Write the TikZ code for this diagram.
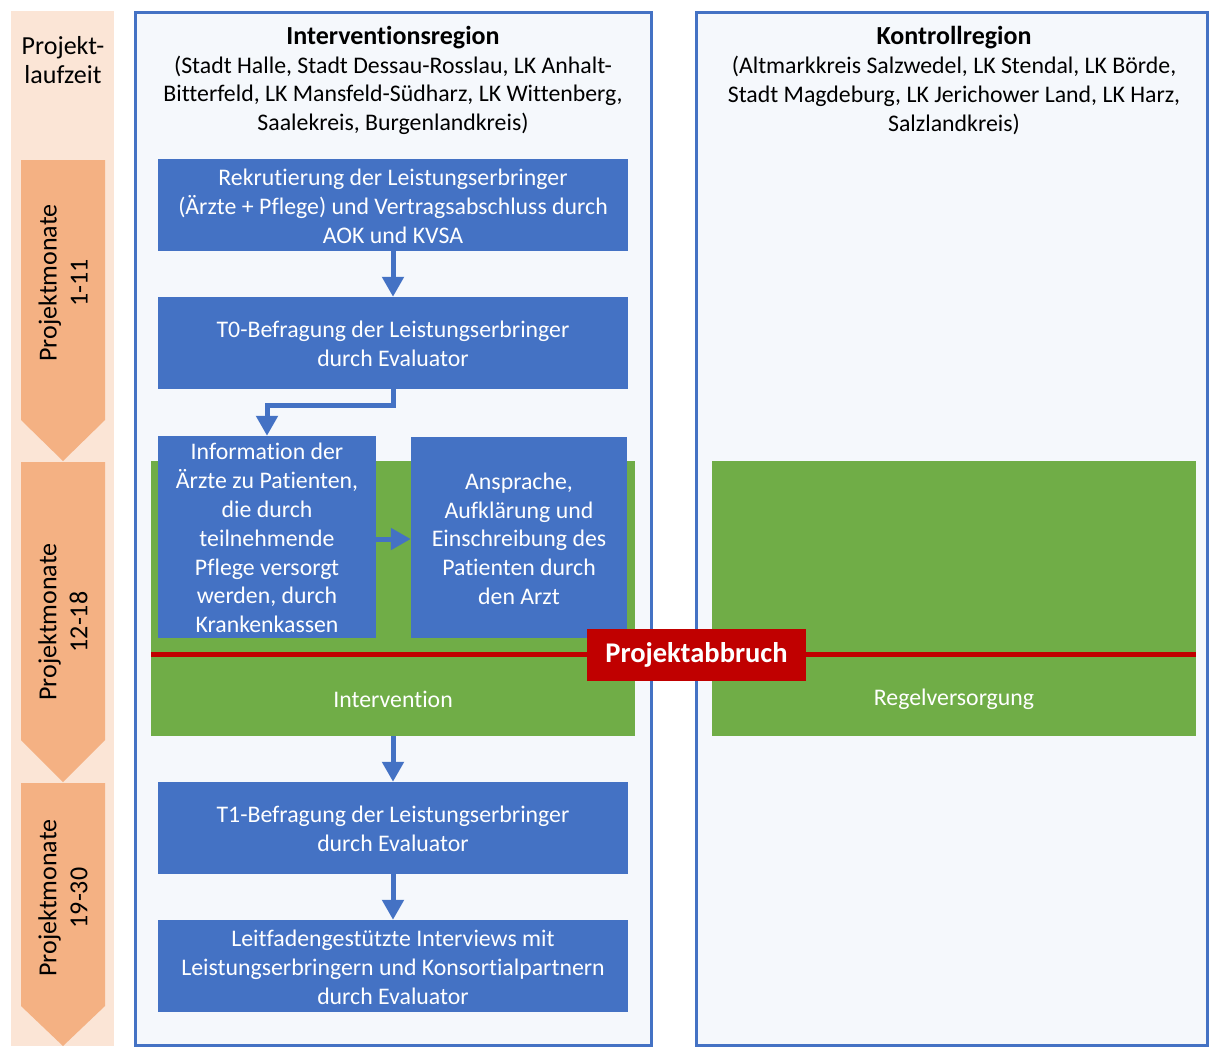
\documentclass[tikz,border=0pt]{standalone}
\usepackage{fontspec}
\setmainfont{Carlito}[Ligatures={NoCommon}]
\usetikzlibrary{arrows.meta}
\definecolor{obl}{HTML}{4472C4}
\definecolor{ogr}{HTML}{70AD47}
\definecolor{ord}{HTML}{C00000}
\definecolor{pkl}{HTML}{FBE5D6}
\definecolor{pkd}{HTML}{F4B183}
\definecolor{pnl}{HTML}{F5F8FC}
\newcommand{\bxlines}[1]{\raisebox{-3.6pt}[\height][\depth]{\begin{tabular}{@{}c@{}}#1\end{tabular}}}
\tikzset{
  txt/.style={font=\fontsize{23.8pt}{28.8pt}\selectfont, align=center, inner sep=0pt, yshift=-1.5pt},
  bigtxt/.style={font=\fontsize{26pt}{31pt}\selectfont, align=center, inner sep=0pt},
  bluebox/.style={font=\fontsize{23.8pt}{28.8pt}\selectfont, inner sep=0pt, fill=obl, text=white},
  greenbox/.style={fill=ogr, inner sep=0pt},
  panel/.style={draw=obl, line width=3pt, fill=pnl},
  chev/.style={fill=pkd},
  arr/.style={draw=obl, line width=5pt, -{Triangle[width=21pt,length=20pt]}},
}
\begin{document}
\begin{tikzpicture}[x=1pt,y=-1pt]
\useasboundingbox (0,0) rectangle (1209,1046);
\fill[white] (0,0) rectangle (1209,1046);
% time strip
\fill[pkl] (11,11) rectangle (114,1046);
\node[bigtxt, font=\fontsize{26pt}{29pt}\selectfont] (lz) at (63,60) {Projekt-\\laufzeit};
\fill[chev] (21,160) -- (105,160) -- (105,420) -- (63,461) -- (21,420) -- cycle;
\fill[chev] (21,462) -- (105,462) -- (105,740) -- (63,782) -- (21,740) -- cycle;
\fill[chev] (21,783) -- (105,783) -- (105,1006) -- (63,1046) -- (21,1006) -- cycle;
\node[bigtxt, rotate=90] (m1) at (63,283) {Projektmonate\\1-11};
\node[bigtxt, rotate=90] (m2) at (63,622) {Projektmonate\\12-18};
\node[bigtxt, rotate=90] (m3) at (63,898) {Projektmonate\\19-30};
% panels
\draw[panel] (135,12.5) rectangle (651,1045);
\draw[panel] (696.5,12.5) rectangle (1207.5,1045);
\node[txt] (ti) at (393,79) {{\fontsize{26pt}{29pt}\selectfont\textbf{Interventionsregion}}\\(Stadt Halle, Stadt Dessau-Rosslau, LK Anhalt-\\Bitterfeld, LK Mansfeld-Südharz, LK Wittenberg,\\Saalekreis, Burgenlandkreis)};
\node[txt] (tk) at (954,79) {{\fontsize{26pt}{29pt}\selectfont\textbf{Kontrollregion}}\\(Altmarkkreis Salzwedel, LK Stendal, LK Börde,\\Stadt Magdeburg, LK Jerichower Land, LK Harz,\\Salzlandkreis)};
% green areas
\node[greenbox, minimum width=484pt, minimum height=275pt] (gl) at (393,598.5) {};
\node[greenbox, minimum width=484pt, minimum height=275pt] (gr) at (954,598.5) {};
\fill[ord] (151,652) rectangle (1196,657);
\node[txt, text=white] (li) at (393,698) {Intervention};
\node[txt, text=white] (lr) at (954,698) {Regelversorgung};
% boxes
\node[bluebox, minimum width=470pt, minimum height=92pt] (b1) at (393,205) {\bxlines{Rekrutierung der Leistungserbringer\\(Ärzte + Pflege) und Vertragsabschluss durch\\AOK und KVSA}};
\node[bluebox, minimum width=470pt, minimum height=92pt] (b2) at (393,343) {\bxlines{T0-Befragung der Leistungserbringer\\durch Evaluator}};
\node[bluebox, minimum width=218pt, minimum height=202pt] (b3) at (267,537) {\bxlines{Information der\\Ärzte zu Patienten,\\die durch\\teilnehmende\\Pflege versorgt\\werden, durch\\Krankenkassen}};
\node[bluebox, minimum width=216pt, minimum height=201pt] (b4) at (519,537.5) {\bxlines{Ansprache,\\Aufklärung und\\Einschreibung des\\Patienten durch\\den Arzt}};
\node[bluebox, minimum width=470pt, minimum height=92pt] (b5) at (393,828) {\bxlines{T1-Befragung der Leistungserbringer\\durch Evaluator}};
\node[bluebox, minimum width=470pt, minimum height=92pt] (b6) at (393,966) {\bxlines{Leitfadengestützte Interviews mit\\Leistungserbringern und Konsortialpartnern\\durch Evaluator}};
% arrows
\draw[arr] (b1.south) -- (b2.north);
\draw[arr] (b2.south) -- ++(0,16) -| (b3.north);
\draw[arr] (b3.east |- 0,539) -- (b4.west |- 0,539);
\draw[arr] (gl.south) -- (b5.north);
\draw[arr] (b5.south) -- (b6.north);
% abort label
\node[fill=ord, text=white, font=\fontsize{28.5pt}{32pt}\selectfont\bfseries, minimum width=219pt, minimum height=52pt, inner sep=0pt] (pa) at (696.5,655) {Projektabbruch};
\end{tikzpicture}
\end{document}
